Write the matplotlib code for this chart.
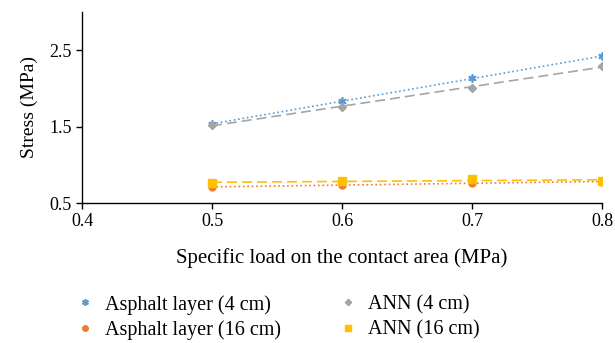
import matplotlib
matplotlib.use("Agg")
import matplotlib.pyplot as plt
import numpy as np

load = [0.5, 0.6, 0.7, 0.8]
asphalt_4 = [1.53, 1.84, 2.13, 2.42]
ann_4 = [1.52, 1.76, 2.01, 2.29]
asphalt_16 = [0.71, 0.735, 0.76, 0.78]
ann_16 = [0.76, 0.79, 0.81, 0.79]

plt.rcParams['font.family'] = ['Liberation Serif', 'DejaVu Serif']

fig = plt.figure(figsize=(6.15, 3.43), dpi=100)
ax = fig.add_axes([82/615, 1-203/343, 520/615, 191/343])

series = [
    (asphalt_4, "Asphalt layer (4 cm)", "#5b9bd5", "x", ":", 5),
    (asphalt_16, "Asphalt layer (16 cm)", "#ed7d31", "o", ":", 5),
    (ann_4, "ANN (4 cm)", "#a5a5a5", "D", (0, (6, 3)), 4),
    (ann_16, "ANN (16 cm)", "#ffc000", "s", (0, (6, 3)), 5.5),
]
handles = []
x = np.array(load)
for vals, label, color, marker, ls, ms in series:
    if marker == "x":
        h, = ax.plot(load, vals, linestyle="none", marker=(6, 2, 0), markersize=ms + 1,
                     markeredgecolor=color, markeredgewidth=1.2, label=label)
    else:
        h, = ax.plot(load, vals, linestyle="none", marker=marker, markersize=ms,
                     color=color, label=label)
    handles.append(h)
    # linear trendline
    k, b = np.polyfit(x, vals, 1)
    ax.plot(x, k * x + b, linestyle=ls, color=color, linewidth=1.2)

ax.set_xlim(0.4, 0.8)
ax.set_ylim(0.5, 3.0)
ax.set_xticks([0.4, 0.5, 0.6, 0.7, 0.8])
ax.set_yticks([0.5, 1.5, 2.5])
ax.tick_params(labelsize=13, direction="out", length=4, width=1)
for s in ["top", "right"]:
    ax.spines[s].set_visible(False)
ax.spines["left"].set_linewidth(1)
ax.spines["bottom"].set_linewidth(1)
ax.set_xlabel("Specific load on the contact area (MPa)", fontsize=15, labelpad=13)
ax.set_ylabel("Stress (MPa)", fontsize=14, labelpad=8)

order = [handles[0], handles[1], handles[2], handles[3]]
fig.legend(handles=order, labels=[h.get_label() for h in order], ncol=2,
           loc="lower left", bbox_to_anchor=(57/615, -0.045), frameon=False,
           fontsize=14.5, handlelength=1.0, handletextpad=0.5, columnspacing=2.8,
           labelspacing=0.3, markerscale=0.8)

fig.savefig("out.png", dpi=100)
